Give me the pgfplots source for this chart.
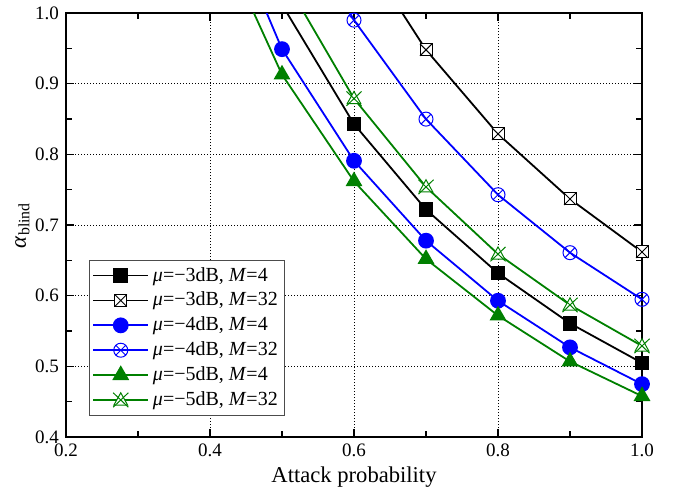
\documentclass[border=0pt]{standalone}
\usepackage{fontspec}
\setmainfont{Liberation Serif}
\usepackage{pgfplots}
\pgfplotsset{compat=1.18}

\definecolor{ogreen}{RGB}{0,128,0}
\definecolor{oblue}{RGB}{0,0,255}

% open square with a cross
\pgfdeclareplotmark{sqx}{%
  \pgfpathrectangle{\pgfqpoint{-\pgfplotmarksize}{-\pgfplotmarksize}}{\pgfqpoint{2\pgfplotmarksize}{2\pgfplotmarksize}}%
  \pgfusepathqfillstroke
  \pgfpathmoveto{\pgfqpoint{-\pgfplotmarksize}{-\pgfplotmarksize}}%
  \pgfpathlineto{\pgfqpoint{\pgfplotmarksize}{\pgfplotmarksize}}%
  \pgfpathmoveto{\pgfqpoint{-\pgfplotmarksize}{\pgfplotmarksize}}%
  \pgfpathlineto{\pgfqpoint{\pgfplotmarksize}{-\pgfplotmarksize}}%
  \pgfusepathqstroke}
% open triangle with a cross
\pgfdeclareplotmark{trix}{%
  \pgfpathmoveto{\pgfqpoint{0pt}{\pgfplotmarksize}}%
  \pgfpathlineto{\pgfqpoint{-0.95\pgfplotmarksize}{-0.7\pgfplotmarksize}}%
  \pgfpathlineto{\pgfqpoint{0.95\pgfplotmarksize}{-0.7\pgfplotmarksize}}%
  \pgfpathclose
  \pgfusepathqfillstroke
  \pgfpathmoveto{\pgfqpoint{-1.05\pgfplotmarksize}{-1.0\pgfplotmarksize}}%
  \pgfpathlineto{\pgfqpoint{1.05\pgfplotmarksize}{1.0\pgfplotmarksize}}%
  \pgfpathmoveto{\pgfqpoint{-1.05\pgfplotmarksize}{1.0\pgfplotmarksize}}%
  \pgfpathlineto{\pgfqpoint{1.05\pgfplotmarksize}{-1.0\pgfplotmarksize}}%
  \pgfusepathqstroke}

\begin{document}
\begin{tikzpicture}
\begin{axis}[
  name=ax,
  scale only axis,
  width=288pt, height=212pt,
  xmin=0.2, xmax=1.0, ymin=0.4, ymax=1.0,
  xtick={0.2,0.4,0.6,0.8,1.0},
  ytick={0.4,0.5,0.6,0.7,0.8,0.9,1.0},
  minor x tick num=1, minor y tick num=1,
  tick align=inside,
  major tick length=4pt, minor tick length=3pt,
  every tick/.style={black, line width=0.7pt},
  axis line style={line width=1pt},
  xticklabel style={/pgf/number format/.cd, fixed, fixed zerofill, precision=1},
  yticklabel style={/pgf/number format/.cd, fixed, fixed zerofill, precision=1},
  /pgf/number format/assume math mode=true,
  ticklabel style={font=\fontsize{9.5}{11}\selectfont},
  grid=major,
  major grid style={black, line width=0.4pt, dash pattern=on 0.5pt off 1pt},
  xlabel={Attack probability},
  ylabel={\textit{α}\textsubscript{blind}},
  label style={font=\fontsize{11.3}{13}\selectfont},
  xlabel style={yshift=2pt},
  ylabel style={yshift=-4pt},
  legend style={
    at={(rel axis cs:0.04,0.05)}, anchor=south west,
    draw=black!70, line width=0.5pt, fill=white,
    font=\fontsize{10}{11}\selectfont,
    row sep=0pt, inner sep=1.5pt,
  },
  legend cell align=left,
  legend image code/.code={%
    \draw[mark indices={2}] plot coordinates {(0cm,0cm) (0.48cm,0cm) (0.96cm,0cm)};},
  every axis plot/.append style={line width=0.9pt},
]
\addplot[black, mark=square*, mark size=3.2pt, mark options={solid}, mark indices={1,2,3,4,5}]
  coordinates {(0.5,1.012) (0.6,0.843) (0.7,0.722) (0.8,0.632) (0.9,0.561) (1.0,0.505)};
\addplot[black, mark=sqx, mark size=3pt, mark options={fill=white, line width=0.5pt}, mark indices={1,2,3,4}]
  coordinates {(0.6,1.106) (0.7,0.948) (0.8,0.829) (0.9,0.737) (1.0,0.662)};
\addplot[oblue, mark=*, mark size=3.5pt, mark indices={1,2,3,4,5,6}]
  coordinates {(0.4,1.19) (0.5,0.949) (0.6,0.791) (0.7,0.678) (0.8,0.593) (0.9,0.527) (1.0,0.475)};
\addplot[oblue, mark=otimes, mark size=3.5pt, mark options={fill=white, line width=0.5pt}, mark indices={1,2,3,4,5}]
  coordinates {(0.5,1.17) (0.6,0.990) (0.7,0.850) (0.8,0.743) (0.9,0.661) (1.0,0.595)};
\addplot[ogreen, mark=triangle*, mark size=4pt, mark indices={1,2,3,4,5,6}]
  coordinates {(0.4,1.136) (0.5,0.913) (0.6,0.762) (0.7,0.652) (0.8,0.572) (0.9,0.507) (1.0,0.458)};
\addplot[ogreen, mark=trix, mark size=3.6pt, mark options={fill=white, line width=0.5pt}, mark indices={1,2,3,4,5}]
  coordinates {(0.5,1.054) (0.6,0.879) (0.7,0.754) (0.8,0.659) (0.9,0.587) (1.0,0.529)};
\legend{{\textit{μ}=−3dB, \textit{M}=4},
        {\textit{μ}=−3dB, \textit{M}=32},
        {\textit{μ}=−4dB, \textit{M}=4},
        {\textit{μ}=−4dB, \textit{M}=32},
        {\textit{μ}=−5dB, \textit{M}=4},
        {\textit{μ}=−5dB, \textit{M}=32}}
\end{axis}
\path (ax.south west) ++(-33pt,-32pt);
\path (ax.north east) ++(20.5pt,5pt);
\end{tikzpicture}
\end{document}
